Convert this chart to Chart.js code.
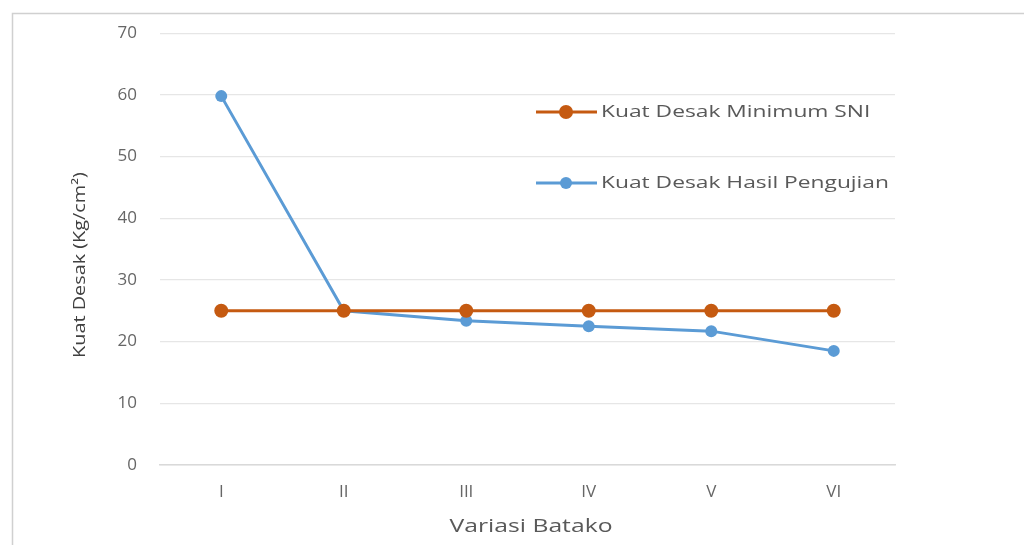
<!doctype html>
<html lang="id">
<head>
  <meta charset="utf-8">
  <title>Kuat Desak Batako</title>
  <script src="https://cdn.jsdelivr.net/npm/chart.js@4"></script>
  <style>
    html, body { margin: 0; padding: 0; background: #fff; }
    #wrap { width: 1024px; height: 545px; position: relative; }
  </style>
</head>
<body>
  <div id="wrap"><canvas id="chart"></canvas></div>

  <script>
    // Data
    var labels = ['I', 'II', 'III', 'IV', 'V', 'VI'];
    var sniMin = [25, 25, 25, 25, 25, 25];
    var hasilUji = [59.8, 25, 23.4, 22.5, 21.7, 18.5];
    var yTicks = [0, 10, 20, 30, 40, 50, 60, 70];

    var orange = '#C55A11';
    var blue = '#5B9BD5';
    var txt = '#666666';

    // the source picture is stretched sideways, so its text is wider than normal
    function stretchedText(ctx, text, x, y, size, sx, rot, align) {
      ctx.save();
      ctx.translate(x, y);
      if (rot) ctx.rotate(rot);
      ctx.scale(sx, 1);
      ctx.font = size + 'px "Open Sans"';
      ctx.textBaseline = 'middle';
      ctx.textAlign = align || 'center';
      ctx.fillText(text, 0, 0);
      ctx.restore();
    }

    // grey frame round the chart, like the pasted picture
    const framePlugin = {
      id: 'frame',
      beforeDraw(chart) {
        const ctx = chart.ctx;
        ctx.save();
        ctx.strokeStyle = '#d0d0d0';
        ctx.lineWidth = 1.5;
        ctx.strokeRect(12.5, 13.5, 1100, 700);
        ctx.restore();
      }
    };

    // legend inside the plot on the right, plus the axis titles
    const textPlugin = {
      id: 'texts',
      afterDraw(chart) {
        const ctx = chart.ctx;
        const items = [
          { text: 'Kuat Desak Minimum SNI', color: orange, r: 7, y: 112 },
          { text: 'Kuat Desak Hasil Pengujian', color: blue, r: 6, y: 183 }
        ];
        ctx.save();
        items.forEach(function(it) {
          ctx.strokeStyle = it.color;
          ctx.lineWidth = 3;
          ctx.beginPath();
          ctx.moveTo(536, it.y);
          ctx.lineTo(597, it.y);
          ctx.stroke();
          ctx.fillStyle = it.color;
          ctx.beginPath();
          ctx.arc(566, it.y, it.r, 0, Math.PI * 2);
          ctx.fill();
          ctx.fillStyle = '#595959';
          stretchedText(ctx, it.text, 601, it.y, 17, 1.34, 0, 'left');
        });

        ctx.fillStyle = '#595959';
        stretchedText(ctx, 'Variasi Batako', 531, 527, 19, 1.3, 0);
        ctx.fillStyle = '#404040';
        stretchedText(ctx, 'Kuat Desak (Kg/cm²)', 80, 265, 16, 1.24, -Math.PI / 2);
        ctx.restore();
      }
    };

    const config = {
      type: 'line',
      data: {
        labels: labels,
        datasets: [{
          label: 'Kuat Desak Minimum SNI',
          data: sniMin,
          borderColor: orange,
          backgroundColor: orange,
          borderWidth: 3,
          pointRadius: 7,
          pointHoverRadius: 7,
          pointBorderWidth: 0,
          tension: 0
        }, {
          label: 'Kuat Desak Hasil Pengujian',
          data: hasilUji,
          borderColor: blue,
          backgroundColor: blue,
          borderWidth: 3,
          pointRadius: 6,
          pointHoverRadius: 6,
          pointBorderWidth: 0,
          tension: 0
        }]
      },
      options: {
        responsive: false,
        animation: false,
        layout: { padding: { top: 32, right: 129, left: 0, bottom: 0 } },
        plugins: {
          legend: { display: false },
          tooltip: { enabled: false }
        },
        scales: {
          x: {
            offset: true,
            grid: { display: false, drawTicks: false },
            border: { display: true, color: '#d9d9d9', width: 1.5 },
            ticks: { color: txt, font: { family: 'Open Sans', size: 17 }, padding: 17 },
            afterFit(scale) { scale.height = 80; }
          },
          y: {
            min: 0,
            max: 70,
            afterBuildTicks(scale) { scale.ticks = yTicks.map(function(v) { return { value: v }; }); },
            grid: { color: '#e6e6e6', lineWidth: 1.2, drawTicks: false },
            border: { display: false },
            ticks: { color: txt, font: { family: 'Open Sans', size: 17 }, padding: 23 },
            afterFit(scale) { scale.width = 160; }
          }
        }
      },
      plugins: [framePlugin, textPlugin]
    };

    const canvas = document.getElementById('chart');
    canvas.width = 1024;
    canvas.height = 545;
    new Chart(canvas, config);
  </script>
</body>
</html>
